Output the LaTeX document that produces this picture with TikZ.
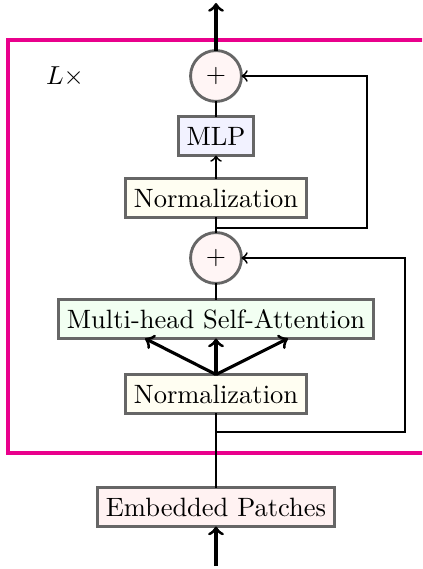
\documentclass[tikz,border=0pt]{standalone}
\usetikzlibrary{calc}
\definecolor{blockframe}{RGB}{233,0,140}
\definecolor{edgegray}{RGB}{102,102,102}
\tikzset{
  u/.style={x=0.385pt,y=-0.385pt},
  block/.style={draw=edgegray,line width=1.1pt,minimum height=15pt,inner xsep=3.2pt,inner ysep=0pt,outer sep=0pt,font=\fontsize{10.2pt}{12pt}\selectfont},
  addop/.style={circle,draw=edgegray,line width=1.1pt,fill=red!4,minimum size=19.6pt,inner sep=0pt,outer sep=0pt},
  thinline/.style={line width=0.7pt},
  thickarrow/.style={line width=1.2pt,->},
}
\begin{document}
\begin{tikzpicture}[u]
\useasboundingbox (0,0) rectangle (422,569);
\clip (0,0) rectangle (422,569);

% repeated encoder block
\draw[blockframe,line width=1.2pt] (8,40) rectangle (440,453);
\node[font=\fontsize{10.2pt}{12pt}\selectfont] at (65,77) {$L\times$};

% nodes
\node[addop] (add1) at (216,76) {$+$};
\node[block,fill=blue!5] (mlp) at (216,136) {MLP};
\node[block,fill=yellow!5] (norm1) at (216,198) {Normalization};
\node[addop] (add2) at (216,258) {$+$};
\node[block,fill=green!5] (msa) at (216,319) {Multi-head Self-Attention};
\node[block,fill=yellow!5] (norm2) at (216,394) {Normalization};
\node[block,fill=red!5] (embed) at (216,507) {Embedded Patches};

\coordinate (out) at (216,3);
\coordinate (in) at (216,566);
\coordinate (skip1) at (216,228);
\coordinate (skip2) at (216,432);

% main path
\draw[thickarrow] (add1) -- (out);
\draw[thinline] (mlp) -- (add1);
\draw[thinline,->] (norm1) -- (mlp);
\draw[thinline] (add2) -- (norm1);
\draw[thinline] (msa) -- (add2);
\draw[thickarrow] (norm2.north) -- (msa.south);
\draw[thickarrow] (norm2.north) -- ($(msa.south)+(-71,0)$);
\draw[thickarrow] (norm2.north) -- ($(msa.south)+(72,0)$);
\draw[thinline] (embed) -- (norm2);
\draw[thickarrow] (in) -- (embed);

% residual connections
\draw[thinline,->] (skip1) -| (367,76) -- (add1.east);
\draw[thinline,->] (skip2) -| (405,258) -- (add2.east);
\end{tikzpicture}
\end{document}
